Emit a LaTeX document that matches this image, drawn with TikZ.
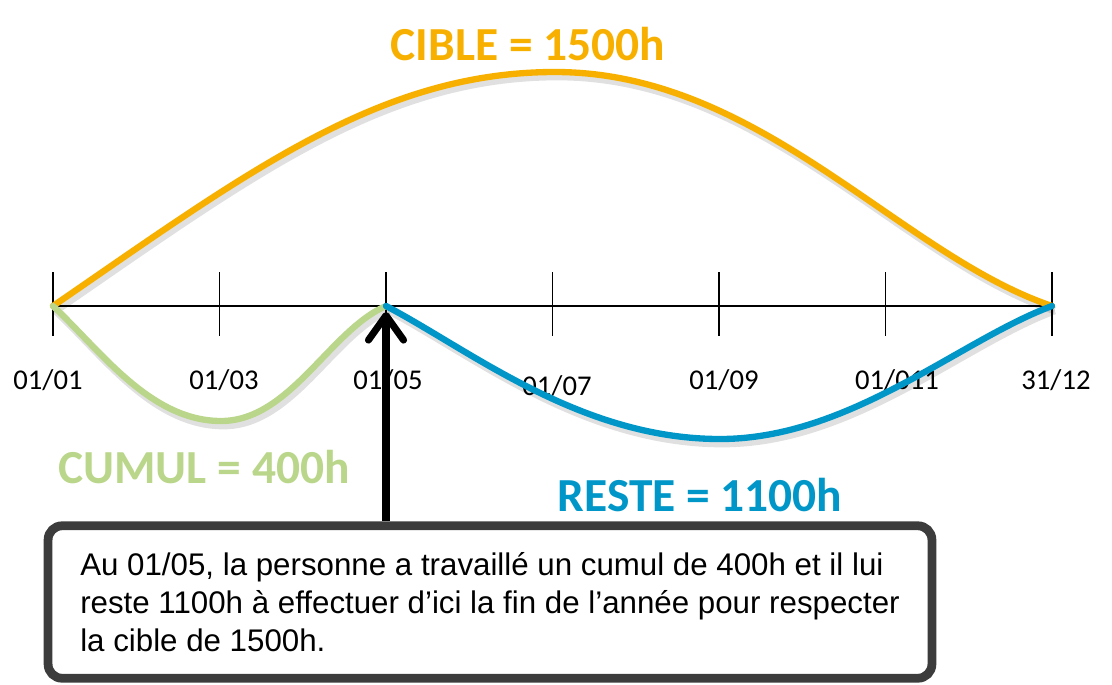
\documentclass[tikz,border=0pt]{standalone}
\usepackage{fontspec}
\setmainfont{Carlito}
\newfontfamily\arialfont{Liberation Sans}
\usepackage{tikz}
\usetikzlibrary{arrows.meta}
\definecolor{cible}{HTML}{F8B000}
\definecolor{cumul}{HTML}{B9D68A}
\definecolor{reste}{HTML}{0097C8}
\definecolor{cadre}{HTML}{3C3C3C}

\begin{document}
\begin{tikzpicture}[x=0.02cm,y=-0.02cm,
  date/.style={font=\fontsize{16.3}{19}\selectfont,inner sep=0pt},
  total/.style={font=\fontsize{27}{32}\selectfont\bfseries,inner sep=0pt},
  courbe/.style={line width=3.6pt,line cap=round},
  ombre/.style={line width=4.5pt,black,opacity=.12,transform canvas={xshift=1.5pt,yshift=-2.5pt}}]
  \useasboundingbox (0,0) rectangle (1112,684);
  \foreach \i in {0,...,6} \coordinate (\i) at (53+166.5*\i,306);
  \draw[line width=1.1pt] (0) -- (6);
  \foreach \i in {0,...,6} \draw[line width=1.1pt] (\i) ++(0,-34) -- ++(0,64);

  \node[date] (d0) at (48,380) {01/01};
  \node[date] (d1) at (224,380) {01/03};
  \node[date] (d2) at (388,380) {01/05};
  \node[date] (d3) at (557,386) {01/07};
  \node[date] (d4) at (724,380) {01/09};
  \node[date] (d5) at (897,380) {01/011};
  \node[date] (d6) at (1056,380) {31/12};

  \draw[ombre] (0) .. controls (248,172) and (380,72) .. (555,72) .. controls (760,72) and (900,255) .. (6);
  \draw[ombre] (0) .. controls (100,350) and (150,421) .. (221,421) .. controls (290,421) and (330,330) .. (2);
  \draw[ombre] (2) .. controls (470,350) and (580,439) .. (720,439) .. controls (850,439) and (960,340) .. (6);
  \draw[courbe,cible] (0) .. controls (248,172) and (380,72) .. (555,72) .. controls (760,72) and (900,255) .. (6);
  \draw[courbe,cumul] (0) .. controls (100,350) and (150,421) .. (221,421) .. controls (290,421) and (330,330) .. (2);
  \draw[courbe,reste] (2) .. controls (470,350) and (580,439) .. (720,439) .. controls (850,439) and (960,340) .. (6);

  \node[total,cible] (c) at (528,44) {CIBLE = 1500h};
  \node[total,cumul] (u) at (204,467) {CUMUL = 400h};
  \node[total,reste] (r) at (700,495) {RESTE = 1100h};

  \node[draw=cadre,line width=5pt,rounded corners=8pt,minimum width=17.68cm,minimum height=3.05cm,
    font=\arialfont\fontsize{17.8}{21.8}\selectfont,align=left] (note) at (490,602)
    {Au 01/05, la personne a travaillé un cumul de 400h et il lui\\
     reste 1100h à effectuer d’ici la fin de l’année pour respecter\\
     la cible de 1500h.};

  \draw[line width=4pt,-{Straight Barb[length=14pt,width=20pt,round]}] (2 |- note.north) -- ([yshift=-3.4pt]2);
\end{tikzpicture}
\end{document}
